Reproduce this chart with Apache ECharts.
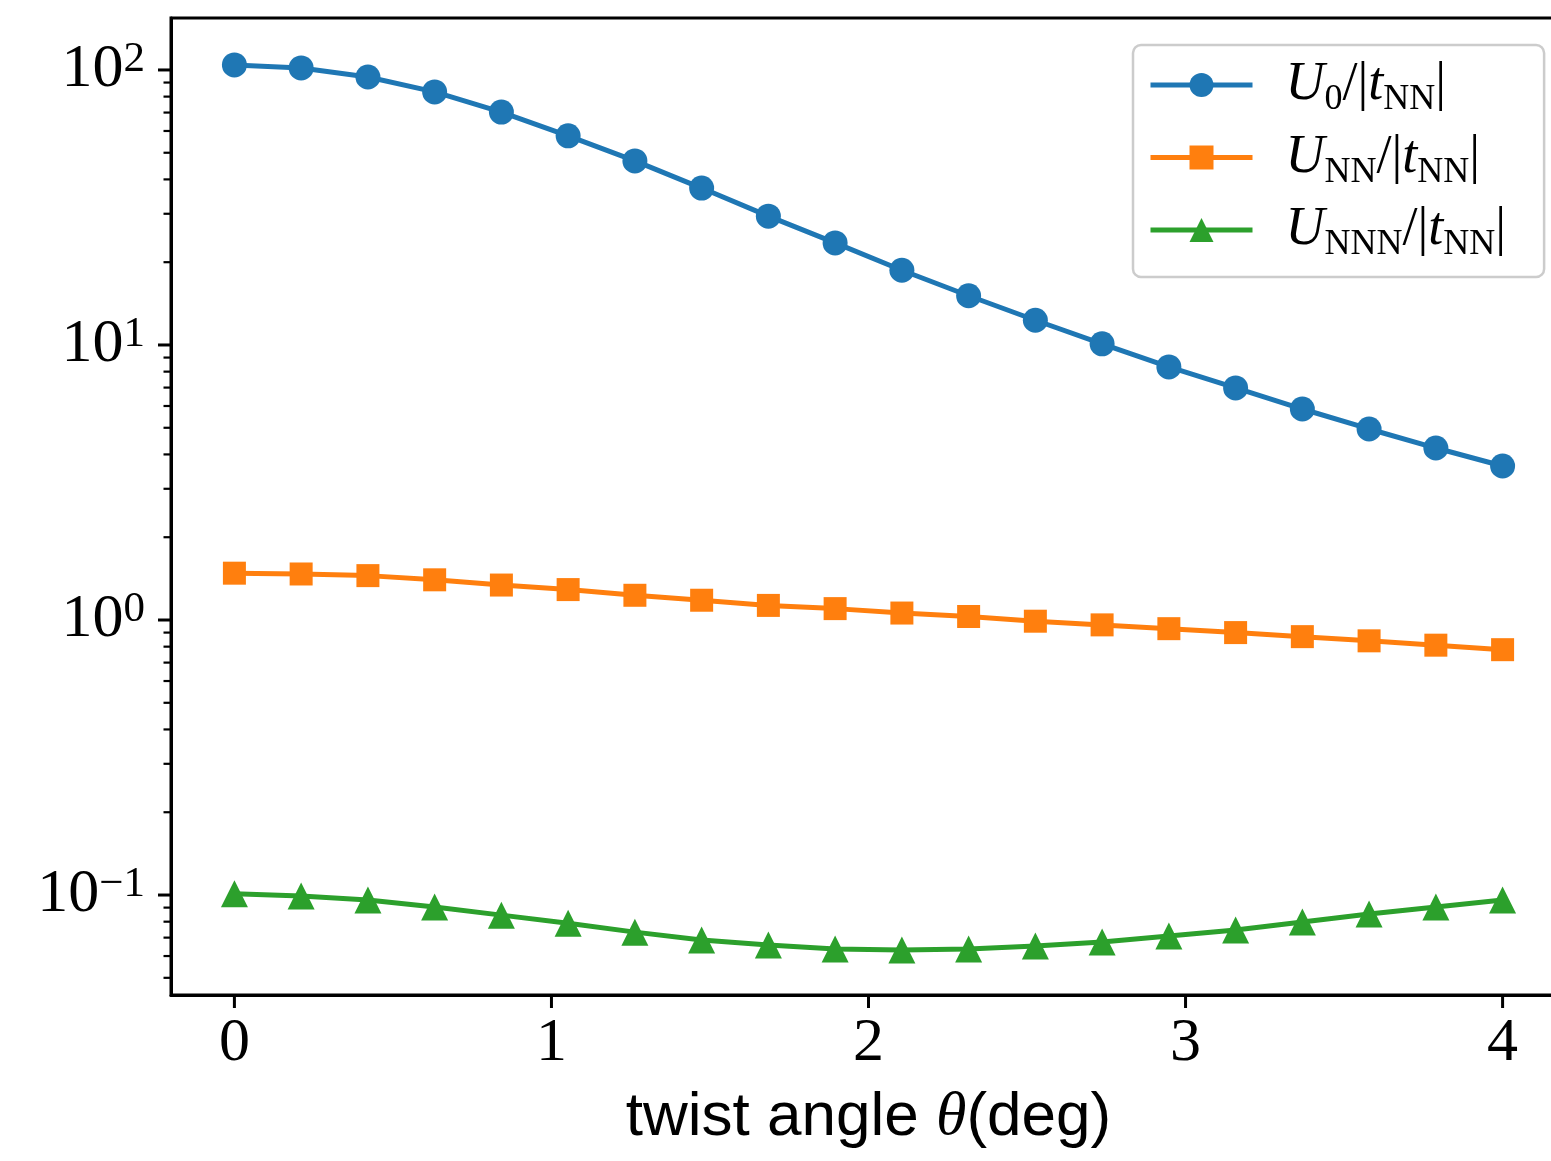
<!DOCTYPE html>
<html><head><meta charset="utf-8">
<script src="https://cdn.jsdelivr.net/npm/echarts@6/dist/echarts.min.js"></script>
<style>html,body{margin:0;padding:0;background:#fff}#c{width:1551px;height:1161px}</style>
</head><body><div id="c"></div>
<script>
// twist angle theta (deg)
const theta = [0, 0.2105, 0.4211, 0.6316, 0.8421, 1.0526, 1.2632, 1.4737, 1.6842, 1.8947,
               2.1053, 2.3158, 2.5263, 2.7368, 2.9474, 3.1579, 3.3684, 3.5789, 3.7895, 4.0];
const u0 = [104.3, 101.7, 94.3, 83.2, 70.3, 57.6, 46.7, 37.2, 29.4, 23.5,
            18.7, 15.1, 12.3, 10.1, 8.32, 6.98, 5.85, 4.95, 4.22, 3.63];
const uNN = [1.48, 1.47, 1.45, 1.40, 1.34, 1.29, 1.23, 1.18, 1.13, 1.10,
             1.06, 1.03, 0.99, 0.96, 0.93, 0.90, 0.87, 0.84, 0.81, 0.78];
const uNNN = [0.101, 0.0992, 0.0959, 0.0904, 0.0845, 0.0790, 0.0733, 0.0686, 0.0658, 0.0636,
              0.0631, 0.0636, 0.0653, 0.0675, 0.0710, 0.0746, 0.0798, 0.0853, 0.0904, 0.0959];
const xTicks = [0, 1, 2, 3, 4];
const yMajorTicks = [0.1, 1, 10, 100];
const yMinorTicks = [0.05, 0.06, 0.07, 0.08, 0.09,
                     0.2, 0.3, 0.4, 0.5, 0.6, 0.7, 0.8, 0.9,
                     2, 3, 4, 5, 6, 7, 8, 9,
                     20, 30, 40, 50, 60, 70, 80, 90];
const seriesNames = ['U0', 'UNN', 'UNNN'];
const legendLabels = {
  U0: '{i|U}{s|0}{n|/|}{i|t}{s|NN}{n||}',
  UNN: '{i|U}{s|NN}{n|/|}{i|t}{s|NN}{n||}',
  UNNN: '{i|U}{s|NNN}{n|/|}{i|t}{s|NN}{n||}'
};
const xMin = -0.2, xMax = 4.2, yMin = 0.0433, yMax = 154.5;

const pair = arr => arr.map((v, i) => [theta[i], v]);
const serif = 'Liberation Serif';

function tickSeries(data, kind) {
  return {
    type: 'custom', silent: true, clip: false, z: 10, data: data,
    renderItem: function (params, api) {
      const cs = params.coordSys;
      if (kind === 'x') {
        const p = api.coord([api.value(0), 1]);
        return {type: 'line', shape: {x1: p[0], y1: cs.y + cs.height, x2: p[0], y2: cs.y + cs.height + 13},
                style: {stroke: '#000', lineWidth: 3}};
      }
      const p = api.coord([0, api.value(1)]);
      const len = kind === 'major' ? 13 : 7.5;
      return {type: 'line', shape: {x1: cs.x - len, y1: p[1], x2: cs.x, y2: p[1]},
              style: {stroke: '#000', lineWidth: kind === 'major' ? 3 : 2.2}};
    }
  };
}

const chart = echarts.init(document.getElementById('c'), null, {renderer: 'canvas'});
chart.setOption({
  animation: false,
  backgroundColor: '#fff',
  grid: {left: 171, top: 18, width: 1395, bottom: 166, outerBoundsMode: 'none', containLabel: false,
         show: true, borderColor: '#000', borderWidth: 3, backgroundColor: 'transparent'},
  legend: {
    data: seriesNames, orient: 'vertical', left: 1133, top: 45,
    padding: [13, 38, 14, 15], itemWidth: 102, itemHeight: 30, itemGap: 12.5,
    backgroundColor: 'rgba(255,255,255,0.8)', borderColor: '#cccccc', borderWidth: 2.5, borderRadius: 8,
    lineStyle: {width: 5},
    formatter: name => legendLabels[name],
    textStyle: {
      padding: [0, 0, 0, 28],
      rich: {
        i: {fontFamily: serif, fontStyle: 'italic', fontSize: 54, lineHeight: 66, color: '#000'},
        n: {fontFamily: serif, fontSize: 54, lineHeight: 66, color: '#000'},
        s: {fontFamily: serif, fontSize: 36, lineHeight: 41, verticalAlign: 'bottom', color: '#000'}
      }
    }
  },
  xAxis: {
    type: 'value', min: xMin, max: xMax,
    axisLine: {onZero: false, lineStyle: {color: '#000', width: 3}},
    axisTick: {show: false}, splitLine: {show: false},
    axisLabel: {
      margin: 18, color: '#000', fontFamily: serif, fontSize: 62,
      formatter: v => (Math.abs(v - Math.round(v)) < 1e-6 && v >= 0 && v <= 4) ? String(Math.round(v)) : ''
    },
    name: '{t|twist angle }{th|θ}{t|(deg)}',
    nameLocation: 'middle', nameGap: 92,
    nameTextStyle: {
      rich: {
        t: {fontFamily: 'Liberation Sans', fontSize: 62, color: '#000'},
        th: {fontFamily: serif, fontStyle: 'italic', fontSize: 62, color: '#000'}
      }
    }
  },
  yAxis: {
    type: 'log', logBase: 10, min: yMin, max: yMax,
    axisLine: {onZero: false, lineStyle: {color: '#000', width: 3}},
    axisTick: {show: false}, splitLine: {show: false}, minorTick: {show: false},
    axisLabel: {
      margin: 26, color: '#000',
      formatter: function (v) {
        const l = Math.log10(v), r = Math.round(l);
        if (Math.abs(l - r) > 1e-6) return '';
        return '{b|10}{s|' + (r < 0 ? '\u2212' + (-r) : r) + '}';
      },
      rich: {
        b: {fontFamily: serif, fontSize: 62, lineHeight: 64, color: '#000'},
        s: {fontFamily: serif, fontSize: 43, lineHeight: 32, verticalAlign: 'top', color: '#000'}
      }
    }
  },
  series: [
    {name: 'U0', type: 'line', data: pair(u0), symbol: 'circle', symbolSize: 25,
     itemStyle: {color: '#1f77b4'}, lineStyle: {width: 5, color: '#1f77b4'}, z: 3},
    {name: 'UNN', type: 'line', data: pair(uNN), symbol: 'rect', symbolSize: 23,
     itemStyle: {color: '#ff7f0e'}, lineStyle: {width: 5, color: '#ff7f0e'}, z: 4},
    {name: 'UNNN', type: 'line', data: pair(uNNN), symbol: 'triangle', symbolSize: 27,
     itemStyle: {color: '#2ca02c'}, lineStyle: {width: 5, color: '#2ca02c'}, z: 5},
    tickSeries(xTicks.map(v => [v, 1]), 'x'),
    tickSeries(yMajorTicks.map(v => [0, v]), 'major'),
    tickSeries(yMinorTicks.map(v => [0, v]), 'minor')
  ]
});
</script></body></html>
